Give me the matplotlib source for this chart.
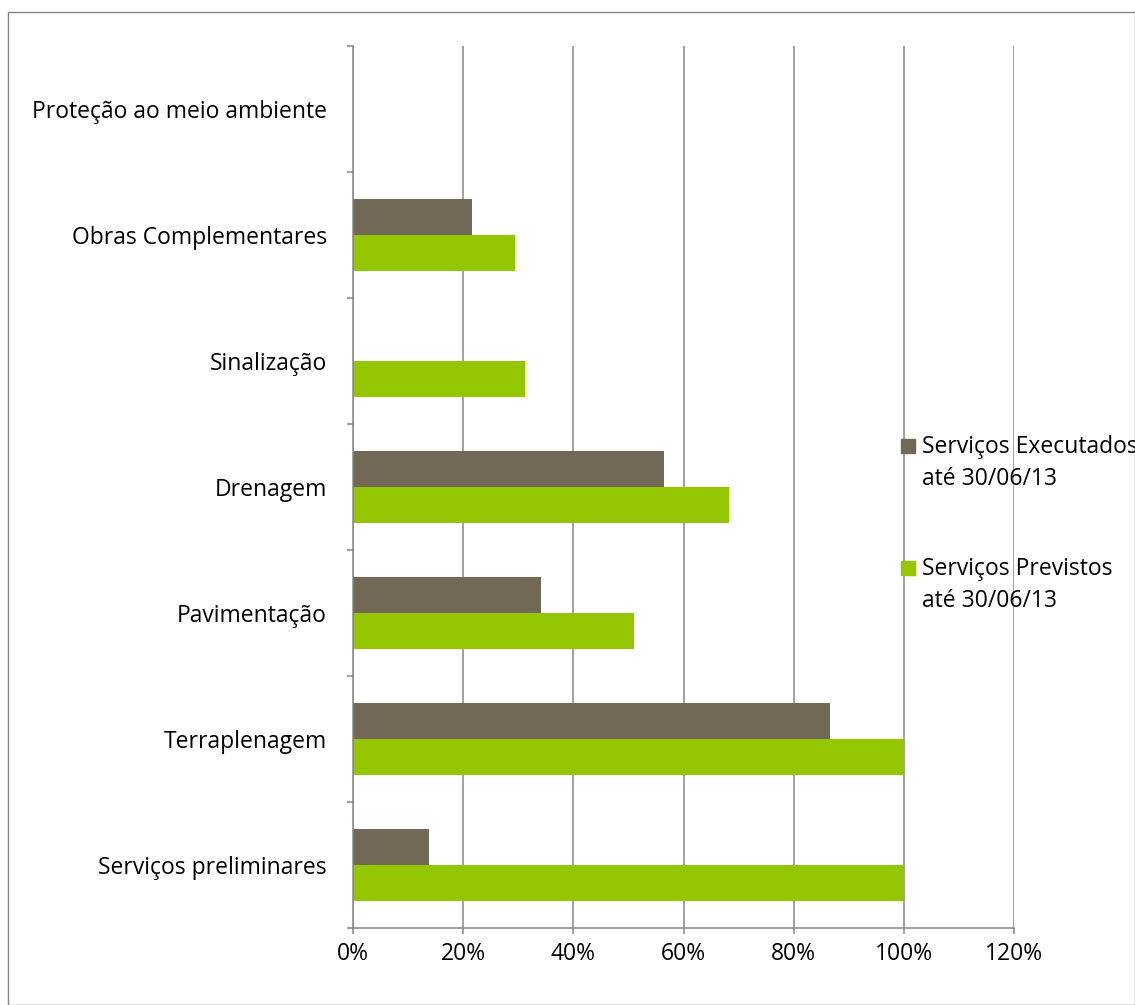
import matplotlib.pyplot as plt
from matplotlib.patches import Rectangle
import numpy as np

plt.rcParams['font.family'] = ['Open Sans', 'DejaVu Sans']

# Data (bottom to top)
categories = ['Serviços preliminares', 'Terraplenagem', 'Pavimentação', 'Drenagem',
              'Sinalização', 'Obras Complementares', 'Proteção ao meio ambiente']
executados = [13.8, 86.6, 34.1, 56.4, 0, 21.6, 0]
previstos = [100, 100, 51.0, 68.2, 31.3, 29.5, 0]
series_labels = [['Serviços Executados', 'até 30/06/13'],
                 ['Serviços Previstos', 'até 30/06/13']]
xticks = [0, 20, 40, 60, 80, 100, 120]

brown = '#726856'
green = '#94c600'
grey = '#868686'
fs = 16.5

W, H = 1135, 1005
fig = plt.figure(figsize=(W / 100, H / 100), dpi=100)
ax = fig.add_axes([353 / W, (H - 928) / H, (1014 - 353) / W, (928 - 46.5) / H])

y = np.arange(len(categories))
h = 1 / 3.5
ax.barh(y + h / 2, executados, height=h, color=brown, zorder=3)
ax.barh(y - h / 2, previstos, height=h, color=green, zorder=3)

ax.set_xlim(0, 120)
ax.set_ylim(-0.5, len(categories) - 0.5)
ax.set_xticks(xticks)
ax.set_xticklabels([f'{v}%' for v in xticks])
ax.set_yticks(y)
ax.set_yticklabels(categories)
ax.set_yticks(np.arange(-0.5, len(categories)), minor=True)

ax.grid(axis='x', color=grey, lw=1.1, zorder=0)
for s in ['top', 'right']:
    ax.spines[s].set_visible(False)
for s in ['left', 'bottom']:
    ax.spines[s].set_color(grey)
    ax.spines[s].set_linewidth(1.1)
    ax.spines[s].set_zorder(4)

ax.tick_params(axis='y', which='major', length=0, pad=26 * 0.72, labelsize=fs)
ax.tick_params(axis='y', which='minor', length=4, width=1.1, color=grey, direction='out')
ax.tick_params(axis='x', length=4, width=1.1, color=grey, direction='out', pad=6, labelsize=fs)

# legend drawn by hand (square aligned with first line)
colors = [brown, green]
tops = [439, 561]
for lab, col, top in zip(series_labels, colors, tops):
    fig.add_artist(Rectangle((901 / W, (H - top - 14) / H), 14 / W, 14 / H,
                             transform=fig.transFigure, color=col))
    fig.text(922 / W, (H - top - 14) / H, lab[0], fontsize=fs, va='baseline')
    fig.text(922 / W, (H - top - 46) / H, lab[1], fontsize=fs, va='baseline')

# outer border
fig.add_artist(Rectangle((8 / W, 0.5 / H), (1134.5 - 8) / W, (H - 12 - 0.5) / H,
                         transform=fig.transFigure, fill=False, ec=grey, lw=1))

fig.savefig('out.png', dpi=100)
